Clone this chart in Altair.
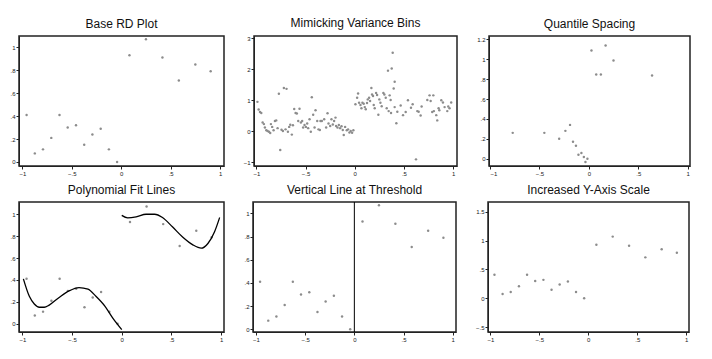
import altair as alt
import pandas as pd

# ---- Binned RD data (shared by several panels) ----
bin_x = [-0.958, -0.875, -0.792, -0.708, -0.625, -0.542, -0.458, -0.375, -0.292, -0.208, -0.125, -0.042,
         0.083, 0.25, 0.417, 0.583, 0.75, 0.905]
bin_y = [0.41, 0.075, 0.11, 0.21, 0.41, 0.30, 0.32, 0.15, 0.24, 0.29, 0.11, 0.0,
         0.93, 1.07, 0.91, 0.71, 0.85, 0.79]

# ---- Mimicking variance bins ----
mv_x = [-0.99, -0.978, -0.964, -0.951, -0.937, -0.924, -0.914, -0.90, -0.887, -0.873, -0.86, -0.853,
        -0.84, -0.826, -0.812, -0.799, -0.785, -0.772, -0.758, -0.745, -0.731, -0.721, -0.704, -0.694,
        -0.68, -0.667, -0.656, -0.64, -0.629, -0.616, -0.602, -0.589, -0.575, -0.562, -0.548, -0.535,
        -0.525, -0.511, -0.497, -0.484, -0.474, -0.46, -0.447, -0.437, -0.423, -0.409, -0.399, -0.382,
        -0.369, -0.355, -0.349, -0.335, -0.311, -0.291, -0.277, -0.267, -0.25, -0.237, -0.223, -0.21,
        -0.196, -0.19, -0.176, -0.162, -0.149, -0.135, -0.122, -0.112, -0.098, -0.081, -0.068, -0.054,
        -0.041, -0.027, -0.014,
        0.007, 0.024, 0.034, 0.044, 0.058, 0.068, 0.078, 0.091, 0.102, 0.112, 0.125, 0.132,
        0.146, 0.156, 0.169, 0.176, 0.186, 0.193, 0.203, 0.217, 0.227, 0.24, 0.25, 0.261,
        0.274, 0.291, 0.301, 0.315, 0.325, 0.338, 0.345, 0.355, 0.365, 0.369, 0.376, 0.386,
        0.396, 0.406, 0.406, 0.423, 0.433, 0.467, 0.491, 0.518, 0.541, 0.572, 0.589, 0.623,
        0.636, 0.65, 0.67, 0.68, 0.738, 0.761, 0.772, 0.788, 0.799, 0.805, 0.829, 0.839,
        0.853, 0.86, 0.88, 0.897, 0.914, 0.941, 0.951, 0.964, 0.981]
mv_y = [0.95, 0.70, 0.62, 0.59, 0.28, 0.23, 0.12, 0.03, 0.01, -0.02, -0.06, 0.23,
        0.14, 0.03, 0.33, 0.35, 0.10, 1.21, -0.61, 0.05, 0.01, 1.40, 0.06, 1.37,
        -0.02, 0.14, 0.21, -0.11, 0.19, 0.72, 0.59, 0.57, 0.33, 0.73, 0.28, 0.33,
        0.12, 0.20, 0.14, 0.25, 0.10, 0.39, -0.02, 1.10, 0.53, 0.12, 0.68, 0.33,
        0.06, 0.04, 0.33, 0.33, 0.39, 0.12, 0.58, 0.25, 0.17, 0.39, 0.22, 0.33,
        0.44, 0.17, 0.12, 0.20, 0.10, 0.16, 0.04, -0.12, 0.14, 0.03, 0.06, -0.04,
        0.01, -0.05, 0.03,
        0.87, 1.08, 1.22, 0.92, 0.85, 0.74, 0.92, 0.89, 0.78, 0.71, 0.91, 1.03,
        1.08, 0.98, 1.40, 1.19, 1.14, 0.85, 0.74, 1.24, 1.17, 0.53, 1.03, 0.92,
        0.81, 1.24, 1.19, 1.08, 0.74, 1.96, 0.65, 1.16, 1.01, 0.59, 2.03, 2.54,
        1.38, 1.60, 0.78, 0.26, 0.63, 0.83, 0.52, 0.62, 1.00, 0.76, 0.87, -0.91,
        0.65, 0.63, 0.51, 0.80, 1.01, 1.16, 0.98, 0.62, 1.16, 0.65, 0.52, 0.35,
        0.74, 0.68, 1.00, 0.93, 0.78, 0.65, 0.80, 0.74, 0.93]

# ---- Quantile spacing bins ----
qs_x = [-0.77, -0.45, -0.30, -0.237, -0.19, -0.16, -0.13, -0.105, -0.075, -0.05, -0.034, -0.014,
        0.027, 0.075, 0.122, 0.17, 0.25, 0.64]
qs_y = [0.26, 0.26, 0.20, 0.28, 0.34, 0.17, 0.13, 0.04, 0.057, 0.017, -0.033, 0.0,
        1.087, 0.847, 0.847, 1.137, 0.987, 0.837]

# ---- Polynomial fit curves ----
fitL_x = [-0.99, -0.93, -0.88, -0.83, -0.78, -0.73, -0.63, -0.53, -0.43, -0.34, -0.26, -0.17, -0.09, 0.0]
fitL_y = [0.41, 0.25, 0.18, 0.15, 0.15, 0.17, 0.24, 0.30, 0.33, 0.315, 0.25, 0.16, 0.05, -0.055]
fitR_x = [0.0, 0.06, 0.145, 0.245, 0.33, 0.41, 0.51, 0.615, 0.716, 0.80, 0.867, 0.934, 0.985]
fitR_y = [0.99, 0.967, 0.976, 1.0, 1.0, 0.97, 0.885, 0.79, 0.72, 0.69, 0.733, 0.84, 0.97]

titles = ["Base RD Plot", "Mimicking Variance Bins", "Quantile Spacing",
          "Polynomial Fit Lines", "Vertical Line at Threshold", "Increased Y-Axis Scale"]

bins = pd.DataFrame({"x": bin_x, "y": bin_y})
mv = pd.DataFrame({"x": mv_x, "y": mv_y})
qs = pd.DataFrame({"x": qs_x, "y": qs_y})
fit = pd.DataFrame({"x": fitL_x + fitR_x, "y": fitL_y + fitR_y,
                    "side": ["L"] * len(fitL_x) + ["R"] * len(fitR_x)})

PT = "#8c8c8c"
LBL = "replace(format(datum.value, '~g'), '0.', '.')"
H = 130


def xenc(dom):
    return alt.X("x:Q", scale=alt.Scale(domain=dom, nice=False, zero=False),
                 axis=alt.Axis(values=[-1, -0.5, 0, 0.5, 1], labelExpr=LBL, title=None,
                               labelOverlap=False))


def yenc(dom, vals):
    return alt.Y("y:Q", scale=alt.Scale(domain=dom, nice=False, zero=False),
                 axis=alt.Axis(values=vals, labelExpr=LBL, title=None, labelOverlap=False))


def pts(df, xd, yd, yv):
    return alt.Chart(df).mark_point(filled=True, size=6, color=PT, opacity=1).encode(
        x=xenc(xd), y=yenc(yd, yv))


v01 = [0, 0.2, 0.4, 0.6, 0.8, 1]

p1 = pts(bins, [-1.035, 1.04], [-0.035, 1.098], v01).properties(width=205, height=H, title=titles[0])
p2 = pts(mv, [-1.025, 1.04], [-1.125, 3.08], [-1, 0, 1, 2, 3]).properties(width=203, height=H, title=titles[1])
p3 = pts(qs, [-1.01, 1.024], [-0.073, 1.233], [0, 0.2, 0.4, 0.6, 0.8, 1, 1.2]).properties(width=201, height=H, title=titles[2])

x4, y4 = [-1.034, 1.029], [-0.076, 1.112]
p4 = alt.layer(
    pts(bins, x4, y4, v01),
    alt.Chart(fit).mark_line(color="black", strokeWidth=1.3, interpolate="monotone").encode(
        x=xenc(x4), y=yenc(y4, v01), detail="side:N"),
).properties(width=205, height=H, title=titles[3])

p5 = alt.layer(
    pts(bins, [-1.03, 1.033], [-0.023, 1.098], v01),
    alt.Chart(pd.DataFrame({"x": [0]})).mark_rule(color="black", strokeWidth=1).encode(x="x:Q"),
).properties(width=203, height=H, title=titles[4])

p6 = pts(bins, [-1.024, 1.029], [-0.584, 1.67], [-0.5, 0, 0.5, 1, 1.5]).properties(width=201, height=H, title=titles[5])

row1 = alt.hconcat(p1, p2, p3, spacing=17)
row2 = alt.hconcat(p4, p5, p6, spacing=17)
chart = alt.vconcat(row1, row2, spacing=5).properties(
    padding={"left": 0, "top": 8, "right": 0, "bottom": 0}
).configure_view(
    stroke="#222222", strokeWidth=1.5
).configure_axis(
    labelFont="Liberation Sans", labelFontSize=6, labelColor="#222222",
    tickSize=3, tickColor="#222222", domainColor="#222222", labelPadding=1,
    grid=False, minExtent=10, maxExtent=10
).configure_title(
    font="Liberation Sans", fontSize=12, fontWeight="normal", color="#111111", offset=5
)

chart.save("out.html", embed_options={"renderer": "svg", "actions": False})
